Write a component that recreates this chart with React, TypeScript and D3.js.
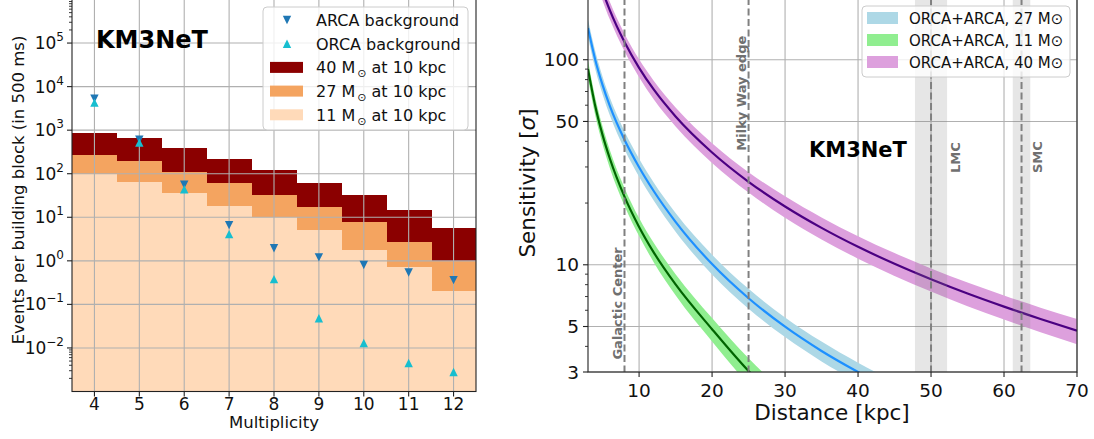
import React from 'react';
import * as d3 from 'd3';

// ---- left panel: trigger rates per multiplicity ----
const multiplicity = [4, 5, 6, 7, 8, 9, 10, 11, 12];
const rate40 = [850, 650, 385, 215, 120, 60, 32, 15, 5.6];
const rate27 = [267, 195, 108, 60, 32, 17, 7.7, 2.7, 1.0];
const rate11 = [100, 65, 36, 18, 10, 5, 1.8, 0.72, 0.2];
const arcaBkg = [5300, 605, 56, 6.6, 1.95, 1.2, 0.8, 0.54, 0.36];
const orcaBkg = [4300, 517, 44, 4.1, 0.38, 0.048, 0.013, 0.0045, 0.0028];
const leftExponents = [-2, -1, 0, 1, 2, 3, 4, 5];

// ---- right panel: sensitivity vs distance ----
const dist27 = [3, 4, 5, 6, 8, 10, 12, 15, 20, 25, 30, 35, 40, 45];
const sens27 = [143, 99.8, 75.2, 59.4, 40.7, 29.9, 22.9, 16.2, 10.08, 6.87, 4.99, 3.8, 3.0, 2.42];
const hi27 = [157, 110, 82.7, 65.3, 44.8, 32.9, 25.2, 17.9, 11.2, 7.63, 5.54, 4.22, 3.33, 2.69];
const lo27 = [129, 89.8, 67.7, 53.5, 36.6, 26.9, 20.6, 14.5, 8.97, 6.11, 4.44, 3.38, 2.67, 2.15];

const dist11 = [3, 4, 5, 6, 8, 10, 12, 15, 20, 25, 30];
const sens11 = [90, 59.3, 42.9, 32.9, 21.5, 15.3, 11.5, 8.02, 4.85, 3.03, 2.03];
const hi11 = [99, 65.2, 47.2, 36.2, 23.7, 16.9, 12.8, 9.0, 5.5, 3.5, 2.37];
const lo11 = [81, 53.4, 38.6, 29.6, 19.4, 13.8, 10.3, 7.1, 4.23, 2.6, 1.7];

const dist40 = [3, 4, 5, 6, 8, 10, 12, 15, 20, 25, 30, 35, 40, 45, 50, 55, 60, 65, 70];
const sens40 = [389, 281, 216, 174, 122, 91.3, 71.6, 52.9, 35.3, 25.4, 19.25, 15.14, 12.24, 10.11, 8.5, 7.24, 6.25, 5.44, 4.77];
const hi40 = [428, 309, 238, 191, 134, 100.4, 79.0, 58.5, 39.2, 28.3, 21.56, 17.0, 13.77, 11.4, 9.6, 8.2, 7.09, 6.18, 5.44];
const lo40 = [350, 253, 194, 157, 110, 82.2, 64.2, 47.3, 31.4, 22.5, 16.94, 13.29, 10.71, 8.82, 7.4, 6.28, 5.41, 4.69, 4.1];

const xTicksRight = [10, 20, 30, 40, 50, 60, 70];
const yTicksRight = [3, 5, 10, 50, 100];
const yMinorRight = [4, 6, 7, 8, 9, 20, 30, 40, 60, 70, 80, 90];

const markerLines = [
  { d: 8, label: 'Galactic Center', tx: 7, ty: 3.45 },
  { d: 25, label: 'Milky Way edge', tx: 24, ty: 36 },
  { d: 50, label: 'LMC', tx: 53.4, ty: 28 },
  { d: 62.4, label: 'SMC', tx: 64.6, ty: 28 },
];
const shadedRanges = [[47.8, 52.2], [61.2, 63.6]];

const FONT = 'DejaVu Sans, sans-serif';

export default function App() {
  // left scales
  const xL = d3.scaleLinear().domain([3.5, 12.5]).range([72, 476]);
  const yL = d3.scaleLog().domain([1e-3, 1e6]).range([391.5, -0.5]);
  const bottomL = yL(1e-3);

  // right scales
  const xR = d3.scaleLinear().domain([3, 70]).range([588, 1077]);
  const yR = d3.scaleLog().domain([3, 200]).range([372, -2]);

  const gridC = '#b0b0b0';
  const spine = '#222';

  const bars = (vals: number[], color: string, key: string) =>
    multiplicity.map((m, i) => (
      <rect key={key + m} x={xL(m - 0.5)} width={xL(m + 0.5) - xL(m - 0.5) + 0.5}
        y={yL(vals[i])} height={bottomL - yL(vals[i])} fill={color} shapeRendering="crispEdges" />
    ));

  const tri = (x: number, y: number, down: boolean, s = 4.2) =>
    down ? `M${x - s},${y - s}L${x + s},${y - s}L${x},${y + s}Z`
         : `M${x - s},${y + s}L${x + s},${y + s}L${x},${y - s}Z`;

  const leftMinor: number[] = [];
  for (let k = 2; k <= 9; k++) { leftMinor.push(k * 1e-3); leftMinor.push(k * 1e5); }

  const band = (ds: number[], lo: number[], hi: number[]) =>
    d3.area<number>().x((_, i) => xR(ds[i])).y0((_, i) => yR(lo[i])).y1((_, i) => yR(hi[i]))
      .curve(d3.curveMonotoneX)(ds) || '';
  const line = (ds: number[], vs: number[]) =>
    d3.line<number>().x((_, i) => xR(ds[i])).y((_, i) => yR(vs[i])).curve(d3.curveMonotoneX)(ds) || '';

  const series = [
    { ds: dist27, s: sens27, lo: lo27, hi: hi27, fill: '#add8e6', stroke: '#1e90ff', label: 'ORCA+ARCA, 27 M⊙' },
    { ds: dist11, s: sens11, lo: lo11, hi: hi11, fill: '#90ee90', stroke: '#006400', label: 'ORCA+ARCA, 11 M⊙' },
    { ds: dist40, s: sens40, lo: lo40, hi: hi40, fill: '#dda0dd', stroke: '#4b0082', label: 'ORCA+ARCA, 40 M⊙' },
  ];

  const leftLegend = [
    { kind: 'down', color: '#1f77b4', text: 'ARCA background' },
    { kind: 'up', color: '#17becf', text: 'ORCA background' },
    { kind: 'patch', color: '#8b0000', mass: '40' },
    { kind: 'patch', color: '#f4a460', mass: '27' },
    { kind: 'patch', color: '#ffdab9', mass: '11' },
  ];

  return (
    <svg width={1094} height={439} style={{ position: 'absolute', left: 0, top: 0, background: '#fff' }}
      fontFamily={FONT}>
      <defs>
        <clipPath id="clipL"><rect x={72} y={-1} width={404} height={392.5} /></clipPath>
        <clipPath id="clipR"><rect x={588} y={-2} width={489} height={374} /></clipPath>
      </defs>

      {/* ===== LEFT PANEL ===== */}
      <g clipPath="url(#clipL)">
        {bars(rate40, '#8b0000', 'a')}
        {bars(rate27, '#f4a460', 'b')}
        {bars(rate11, '#ffdab9', 'c')}
        {multiplicity.map(m => (
          <line key={'gx' + m} x1={xL(m)} x2={xL(m)} y1={-1} y2={bottomL} stroke={gridC} strokeWidth={1.1} />
        ))}
        {leftExponents.map(e => (
          <line key={'gy' + e} x1={72} x2={476} y1={yL(10 ** e)} y2={yL(10 ** e)} stroke={gridC} strokeWidth={1.1} />
        ))}
        {multiplicity.map((m, i) => (
          <path key={'ar' + m} d={tri(xL(m), yL(arcaBkg[i]), true)} fill="#1f77b4" />
        ))}
        {multiplicity.map((m, i) => (
          <path key={'or' + m} d={tri(xL(m), yL(orcaBkg[i]), false)} fill="#17becf" />
        ))}
      </g>
      <rect x={72} y={-1} width={404} height={bottomL + 1} fill="none" stroke={spine} strokeWidth={1.1} />
      {multiplicity.map(m => (
        <g key={'tx' + m}>
          <line x1={xL(m)} x2={xL(m)} y1={bottomL} y2={bottomL + 5} stroke={spine} strokeWidth={1.1} />
          <text x={xL(m)} y={410} textAnchor="middle" fontSize={17} fill="#111">{m}</text>
        </g>
      ))}
      {leftExponents.map(e => (
        <g key={'ty' + e}>
          <line x1={67} x2={72} y1={yL(10 ** e)} y2={yL(10 ** e)} stroke={spine} strokeWidth={1.1} />
          <text x={64} y={yL(10 ** e) + 6} textAnchor="end" fontSize={17} fill="#111">10<tspan dy={-8} fontSize={12}>{e < 0 ? '−' + -e : e}</tspan></text>
        </g>
      ))}
      {leftMinor.map(v => (
        <line key={'mn' + v} x1={69} x2={72} y1={yL(v)} y2={yL(v)} stroke={spine} strokeWidth={0.9} />
      ))}
      <text x={274} y={428} textAnchor="middle" fontSize={16.5} fill="#111">Multiplicity</text>
      <text transform="translate(18.5,190) rotate(-90)" textAnchor="middle" dominantBaseline="central"
        fontSize={16.5} fill="#111">Events per building block (in 500 ms)</text>
      <text x={96} y={48} fontSize={24} fontWeight="bold" fill="#000">KM3NeT</text>

      <rect x={263} y={7} width={205} height={123} rx={4} fill="#fff" fillOpacity={0.8} stroke="#cccccc" />
      {leftLegend.map((it, i) => {
        const cy = 20 + i * 23.7;
        return (
          <g key={'ll' + i}>
            {it.kind === 'patch'
              ? <rect x={270} y={cy - 5.5} width={33} height={11} fill={it.color} />
              : <path d={tri(287, cy, it.kind === 'down')} fill={it.color} />}
            <text x={316} y={cy + 6} fontSize={16} fill="#111">
              {it.kind === 'patch'
                ? <>{it.mass} M<tspan dx={2} dy={4} fontSize={11}>⊙</tspan><tspan dy={-4}> at 10 kpc</tspan></>
                : it.text}
            </text>
          </g>
        );
      })}

      {/* ===== RIGHT PANEL ===== */}
      {xTicksRight.map(t => (
        <line key={'rgx' + t} x1={xR(t)} x2={xR(t)} y1={-2} y2={372} stroke={gridC} strokeWidth={1.1} />
      ))}
      {yTicksRight.map(t => (
        <line key={'rgy' + t} x1={588} x2={1077} y1={yR(t)} y2={yR(t)} stroke={gridC} strokeWidth={1.1} />
      ))}
      <g clipPath="url(#clipR)">
        {series.map((s, i) => (
          <path key={'band' + i} d={band(s.ds, s.lo, s.hi)} fill={s.fill} />
        ))}
        {series.map((s, i) => (
          <path key={'ln' + i} d={line(s.ds, s.s)} fill="none" stroke={s.stroke} strokeWidth={2.2} />
        ))}
        {shadedRanges.map((r, i) => (
          <rect key={'sh' + i} x={xR(r[0])} width={xR(r[1]) - xR(r[0])} y={-2} height={374} fill="#808080" fillOpacity={0.2} />
        ))}
        {markerLines.map(m => (
          <line key={'ml' + m.d} x1={xR(m.d)} x2={xR(m.d)} y1={-2} y2={372} stroke="#808080"
            strokeWidth={2} strokeDasharray="7,3.5" />
        ))}
      </g>
      {markerLines.map(m => (
        <text key={'mt' + m.d} transform={`translate(${xR(m.tx)},${yR(m.ty)}) rotate(-90)`}
          dominantBaseline="central" fontSize={13} fontWeight="bold" fill="#707070">{m.label}</text>
      ))}
      <rect x={588} y={-2} width={489} height={374} fill="none" stroke={spine} strokeWidth={1.1} />
      {xTicksRight.map(t => (
        <g key={'rtx' + t}>
          <line x1={xR(t)} x2={xR(t)} y1={372} y2={377} stroke={spine} strokeWidth={1.1} />
          <text x={xR(t)} y={396.5} textAnchor="middle" fontSize={18.5} fill="#111">{t}</text>
        </g>
      ))}
      {yTicksRight.map(t => (
        <g key={'rty' + t}>
          <line x1={583} x2={588} y1={yR(t)} y2={yR(t)} stroke={spine} strokeWidth={1.1} />
          <text x={579} y={yR(t) + 6.5} textAnchor="end" fontSize={18.5} fill="#111">{t}</text>
        </g>
      ))}
      {yMinorRight.map(t => (
        <line key={'rmn' + t} x1={585} x2={588} y1={yR(t)} y2={yR(t)} stroke={spine} strokeWidth={0.9} />
      ))}
      <text x={832} y={420} textAnchor="middle" fontSize={21.5} fill="#111">Distance [kpc]</text>
      <text transform="translate(527,183) rotate(-90)" textAnchor="middle" dominantBaseline="central"
        fontSize={21.5} fill="#111">Sensitivity [<tspan fontStyle="italic">σ</tspan>]</text>
      <text x={809} y={157} fontSize={21} fontWeight="bold" fill="#000">KM3NeT</text>

      <rect x={862} y={6} width={208} height={71} rx={4} fill="#fff" fillOpacity={0.8} stroke="#cccccc" />
      {series.map((s, i) => {
        const cy = 18 + i * 22;
        return (
          <g key={'rl' + i}>
            <rect x={867} y={cy - 6} width={31} height={12} fill={s.fill} />
            <text x={909} y={cy + 5.5} fontSize={15} fill="#111">{s.label}</text>
          </g>
        );
      })}
    </svg>
  );
}
